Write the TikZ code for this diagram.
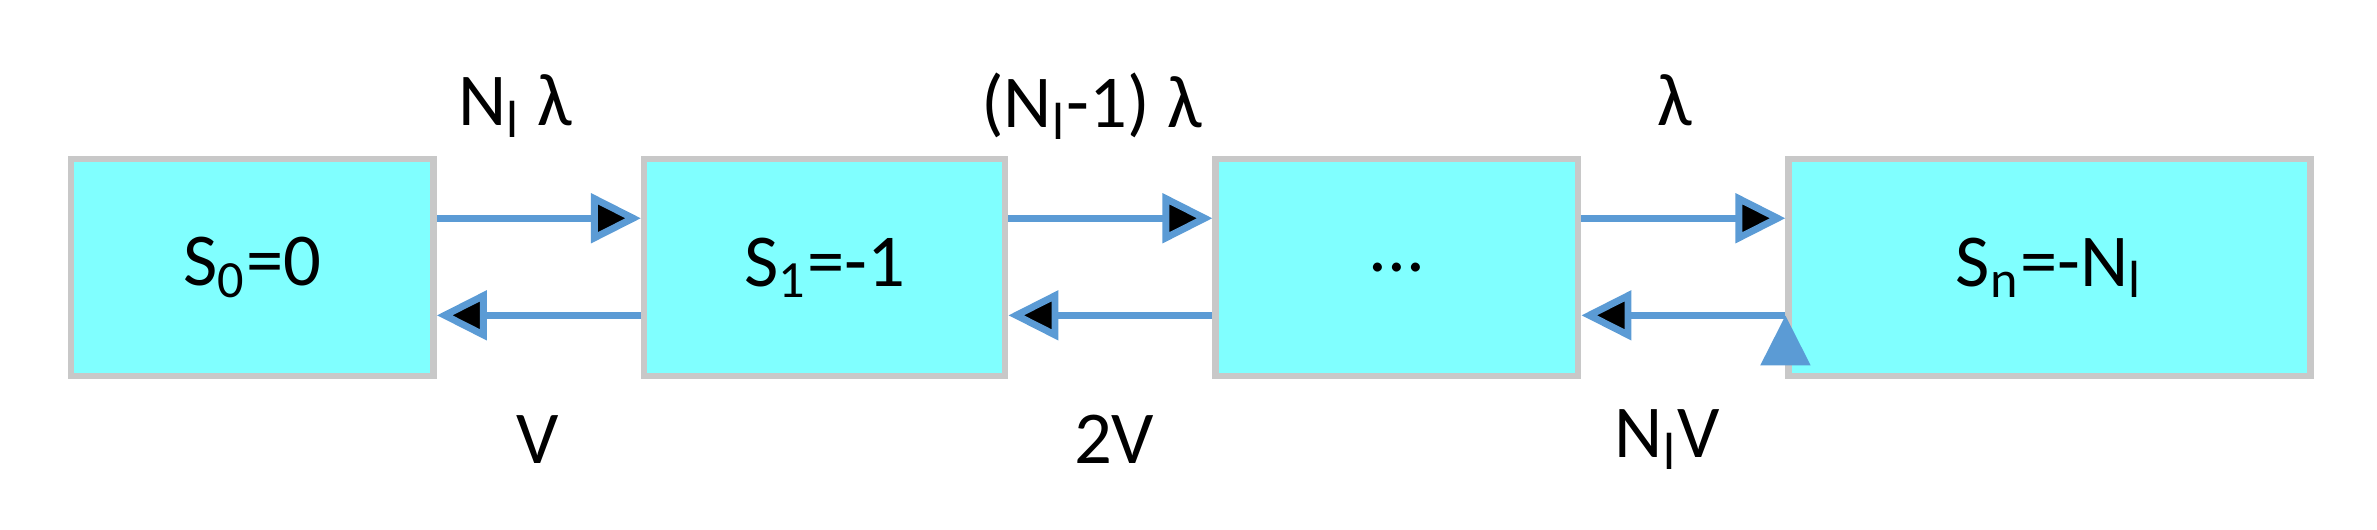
\documentclass[tikz,border=0pt]{standalone}
\usepackage{fontspec}
\setmainfont{Carlito}
\usetikzlibrary{arrows.meta}
\definecolor{boxfill}{HTML}{80FFFF}
\definecolor{boxline}{HTML}{C8C8C8}
\definecolor{flow}{HTML}{5B9BD5}
\begin{document}
\begin{tikzpicture}[x=0.01cm, y=0.01cm, font=\fontsize{14}{16}\selectfont,
  state/.style={draw=boxline, line width=1.2pt, fill=boxfill, minimum height=1.43cm, inner sep=0pt},
  rate/.style={-{Triangle[length=0.33cm, width=0.32cm]}, draw=flow, line width=1.3pt}]
\useasboundingbox (0,0) rectangle (1568,349);
\node[state, minimum width=2.39cm] (s0) at (166.5,172.5) {S\textsubscript{0}=0};
\node[state, minimum width=2.38cm] (s1) at (544,172.5) {S\textsubscript{1}=-1};
\node[state, minimum width=2.39cm] (s2) at (921.5,172.5) {...};
\node[state, minimum width=3.44cm] (s3) at (1352,172.5) {S\textsubscript{n}=-N\textsubscript{l}};

\node (up0) at (340,279) {N\textsubscript{l} λ};
\node (up1) at (720,279) {(N\textsubscript{l}-1) λ};
\node (up2) at (1105,283) {λ};
\node (dn0) at (355,59) {V};
\node (dn1) at (735,59) {2V};
\node (dn2) at (1100,59) {N\textsubscript{l}V};

\path[rate] ([yshift=0.325cm]s0.east) edge ([yshift=0.325cm]s1.west)
      ([yshift=0.325cm]s1.east) edge ([yshift=0.325cm]s2.west)
      ([yshift=0.325cm]s2.east) edge ([yshift=0.325cm]s3.west)
      ([yshift=-0.315cm]s1.west) edge ([yshift=-0.315cm]s0.east)
      ([yshift=-0.315cm]s2.west) edge ([yshift=-0.315cm]s1.east)
      ([yshift=-0.315cm]s3.west) edge ([yshift=-0.315cm]s2.east);
\end{tikzpicture}
\end{document}
